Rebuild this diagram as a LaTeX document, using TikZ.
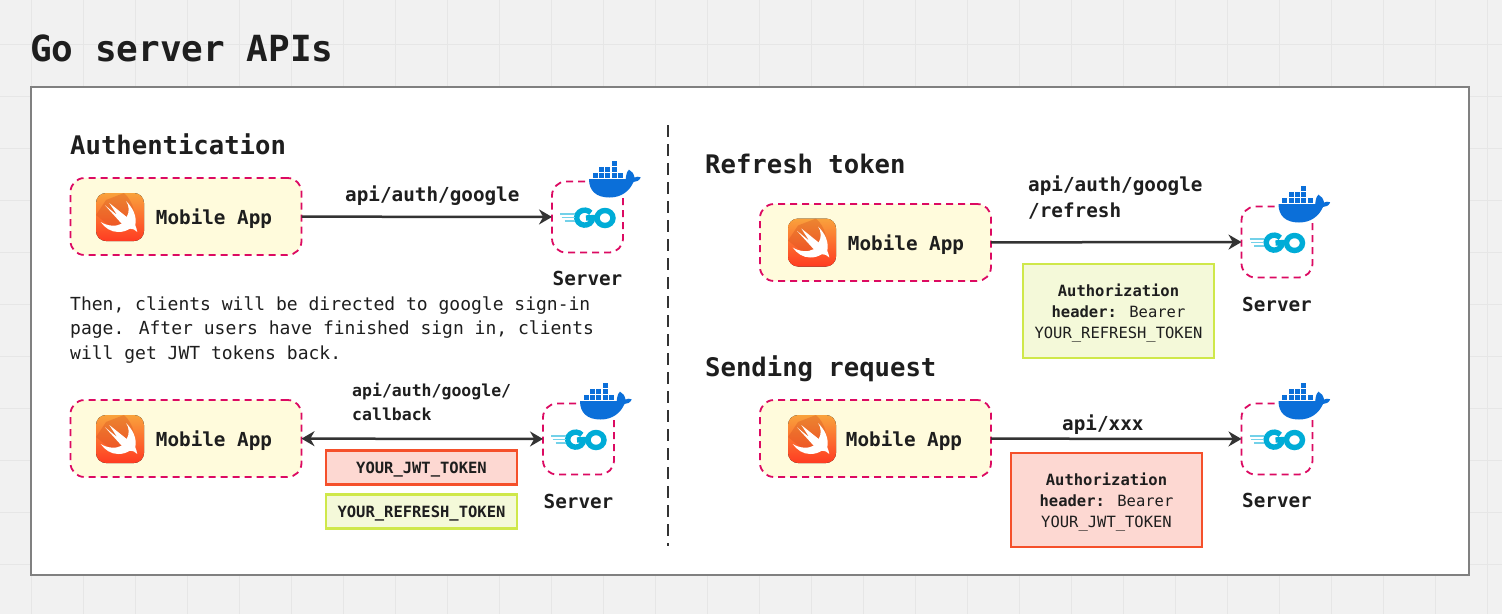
\documentclass[tikz,border=0pt]{standalone}
\usepackage{fontspec}
\setmainfont{DejaVu Sans Mono}
\usetikzlibrary{positioning,arrows.meta}
\definecolor{pagebg}{HTML}{F1F1F1}
\definecolor{gridline}{HTML}{E6E6E6}
\definecolor{framegray}{HTML}{808080}
\definecolor{inkdark}{HTML}{1E1E1E}
\definecolor{arrowgray}{HTML}{333333}
\definecolor{appfill}{HTML}{FFFBDC}
\definecolor{dashpink}{HTML}{DC0A62}
\definecolor{redfill}{HTML}{FDD8D2}
\definecolor{reddraw}{HTML}{F5502B}
\definecolor{greenfill}{HTML}{F4F9D9}
\definecolor{greendraw}{HTML}{CFE84A}
\definecolor{swifttop}{HTML}{F9A23C}
\definecolor{swiftbot}{HTML}{FF3B22}
\definecolor{swiftdark}{HTML}{D4501E}
\definecolor{dockerblue}{HTML}{0B6FD9}
\definecolor{gocyan}{HTML}{00ACD7}
\tikzset{
  appbox/.style={rectangle, rounded corners=14pt, draw=dashpink, fill=appfill, line width=1.8pt,
                 dash pattern=on 7pt off 5pt, minimum width=231pt, minimum height=77pt, outer sep=0pt,
                 inner sep=0pt, text height=16pt, text depth=0pt,
                 font=\fontsize{19.3}{23}\selectfont\bfseries, text=inkdark},
  srvbox/.style={rectangle, rounded corners=14pt, draw=dashpink, line width=1.8pt, outer sep=0pt,
                 dash pattern=on 7pt off 5pt, minimum width=71pt, minimum height=71pt, inner sep=0pt},
  srvtext/.style={font=\fontsize{19.3}{23}\selectfont\bfseries, text=inkdark, inner sep=0pt},
  heading/.style={anchor=base west, font=\fontsize{25.6}{30}\selectfont\bfseries, text=inkdark, inner sep=0pt},
  pathtext/.style={anchor=base west, font=\fontsize{19.3}{26}\selectfont\bfseries, text=inkdark, inner sep=0pt, align=left},
  fwd/.style={-{Stealth[length=13pt,width=15pt]}, line width=2.5pt, draw=arrowgray},
  both/.style={{Stealth[length=13pt,width=15pt]}-{Stealth[length=13pt,width=15pt]}, line width=2.5pt, draw=arrowgray},
  tokenbox/.style={rectangle, line width=2.4pt, minimum width=191pt, inner sep=0pt, align=center,
                   text depth=0pt, font=\fontsize{15.5}{21}\selectfont, text=inkdark},
  redbox/.style={tokenbox, draw=reddraw, fill=redfill},
  greenbox/.style={tokenbox, draw=greendraw, fill=greenfill},
  swifticon/.pic={
    \fill[rounded corners=10pt, top color=swifttop, bottom color=swiftbot, draw=none] (-24,-24) rectangle (24,24);
    \fill[swiftdark, opacity=.35] (-14,-17) -- (4,-24) .. controls (14,-15) and (16,-2) .. (13,8) -- (2,14) .. controls (-6,12) and (-12,8) .. (-24,-2) -- cycle;
    \fill[white] (6,-16) .. controls (13,-9) and (17,-1) .. (15.3,8.3) .. controls (16,10.5) and (17,12.5) .. (17.3,15)
      .. controls (15,12.5) and (12.5,11.5) .. (10,11.7) .. controls (6,14) and (2.5,15) .. (-1.7,15)
      .. controls (-9,15) and (-15,11) .. (-19.3,5) .. controls (-13,9) and (-4,10) .. (1.7,6.7)
      -- (-15,-11.7) -- (-2.7,-1.7) -- (-10.7,-14) -- (6.7,0) .. controls (9.5,-5) and (9.5,-11) .. (6,-16) -- cycle;
  },
  srvicons/.pic={
    % whale and containers
    \fill[dockerblue] (1.5,-37.8) -- (38.2,-37.8) .. controls (38.5,-42) and (39.5,-46) .. (41.5,-47.3)
      .. controls (44.5,-46) and (46.5,-43) .. (47,-39.5) .. controls (49,-40.5) and (51,-40.5) .. (53.2,-39.7)
      .. controls (52,-36.5) and (49,-35) .. (46,-35) .. controls (42,-26) and (34,-19.5) .. (22,-19.5)
      .. controls (9,-19.5) and (1.5,-26) .. (1.5,-37.8) -- cycle;
    \foreach \cx in {5.3,11.6,17.9,24.2,30.5}
      \fill[dockerblue] (\cx,-44) rectangle +(5,5);
    \foreach \cx in {11.6,17.9,24.2}
      \fill[dockerblue] (\cx,-50.2) rectangle +(5,5);
    \fill[dockerblue] (24.2,-56.4) rectangle +(5,5);
    % go mark
    \draw[gocyan, line width=5.4pt] (3.3,-4.2) arc[start angle=40, end angle=360, x radius=8pt, y radius=7.5pt] -- (-1.5,1) ;
    \draw[gocyan, line width=5.4pt] (17.5,1) ellipse[x radius=8pt, y radius=7.5pt];
    \foreach \lx/\ly in {-27.5/-3,-26/0.7,-23/4}
      \draw[gocyan!55, line width=1.2pt] (\lx,\ly) -- (-13,\ly);
  },
}

\begin{document}
\begin{tikzpicture}[x=1pt, y=-1pt]
  \useasboundingbox (0,0) rectangle (1502,614);
  \fill[pagebg] (0,0) rectangle (1502,614);
  \foreach \gx in {31,83,...,1500}
    \draw[gridline, line width=1pt] (\gx,0) -- (\gx,614);
  \foreach \gy in {44,96,...,610}
    \draw[gridline, line width=1pt] (0,\gy) -- (1502,\gy);
  \draw[framegray, fill=white, line width=2pt] (31,87) rectangle (1469,575);

  \node[anchor=base west, font=\fontsize{36}{40}\selectfont\bfseries, text=inkdark, inner sep=0pt] (title) at (30,61) {Go server APIs};

  % left side
  \node[heading] (authhead) at (70,154) {Authentication};
  \node[appbox] (app1) at (186,216.5) {\hspace{56pt}Mobile App};
  \pic at (120,217) {swifticon};
  \node[srvbox] (srv1) at (587.5,217) {};
  \pic at (587.5,217) {srvicons};
  \node[srvtext] (srvtext1) [below=18pt of srv1] {Server};
  \draw[fwd] (app1) -- (srv1);
  \node[pathtext] (path1) at (345,201) {api/auth/google};

  \node[anchor=base west, align=left, inner sep=0pt, text=inkdark, font=\fontsize{18}{24.5}\selectfont] (thentext) at (70,359)
    {Then, clients will be directed to google sign-in\\page. After users have finished sign in, clients\\will get JWT tokens back.};

  \node[appbox] (app2) at (186,438.5) {\hspace{56pt}Mobile App};
  \pic at (120,439) {swifticon};
  \node[srvbox] (srv2) at (578.5,439) {};
  \pic at (578.5,439) {srvicons};
  \node[srvtext] (srvtext2) [below=19pt of srv2] {Server};
  \draw[both] (app2) -- (srv2);
  \node[pathtext, font=\fontsize{16.5}{23.5}\selectfont\bfseries] (path2) at (352,420) {api/auth/google/\\callback};
  \node[redbox, minimum height=34pt, font=\fontsize{15.5}{21}\selectfont\bfseries] (jwt1) at (421.5,467.5) {YOUR\_JWT\_TOKEN};
  \node[greenbox, minimum height=34pt, font=\fontsize{15.5}{21}\selectfont\bfseries] (refresh1) at (421.5,511.5) {YOUR\_REFRESH\_TOKEN};

  \draw[arrowgray, line width=2.5pt, dash pattern=on 12pt off 7pt] (668,125) coordinate (divtop) -- (668,546) coordinate (divbot);

  % right side
  \node[heading] (refreshhead) at (705,173) {Refresh token};
  \node[appbox] (app3) at (875.5,242.5) {\hspace{61pt}Mobile App};
  \pic at (812,242.5) {swifticon};
  \node[srvbox] (srv3) at (1277,242) {};
  \pic at (1277,242) {srvicons};
  \node[srvtext] (srvtext3) [below=19pt of srv3] {Server};
  \draw[fwd] (app3) -- (srv3);
  \node[pathtext] (path3) at (1028,217) {api/auth/google\\/refresh};
  \node[greenbox, minimum height=94pt] (bearer1) at (1118.5,311)
    {\textbf{Authorization}\\\textbf{header:} Bearer\\YOUR\_REFRESH\_TOKEN};

  \node[heading] (sendhead) at (705,376) {Sending request};
  \node[appbox] (app4) at (875.5,438.5) {\hspace{57pt}Mobile App};
  \pic at (812,439) {swifticon};
  \node[srvbox] (srv4) at (1277,439) {};
  \pic at (1277,439) {srvicons};
  \node[srvtext] (srvtext4) [below=18pt of srv4] {Server};
  \draw[fwd] (app4) -- (srv4);
  \node[pathtext] (path4) at (1062,430) {api/xxx};
  \node[redbox, minimum height=94pt] (bearer2) at (1106.5,500)
    {\textbf{Authorization}\\\textbf{header:} Bearer\\YOUR\_JWT\_TOKEN};
\end{tikzpicture}
\end{document}
